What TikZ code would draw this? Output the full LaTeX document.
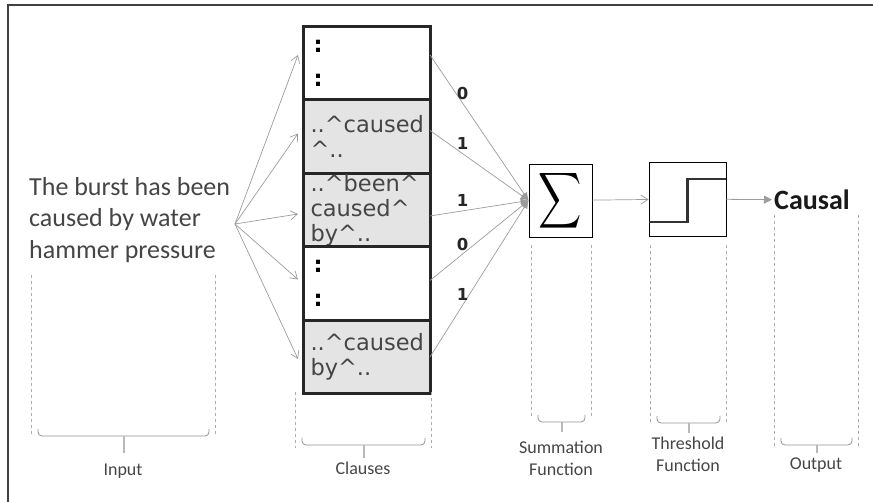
\documentclass[tikz,border=0pt]{standalone}
\usepackage{fontspec}
\setmainfont{Carlito}
\newfontfamily\clausefont{DejaVu Sans}
\usetikzlibrary{arrows.meta,positioning}
\definecolor{linegray}{HTML}{9C9C9C}
\definecolor{cellgray}{HTML}{E4E4E4}
\definecolor{inkgray}{HTML}{454545}
\tikzset{
  %clause cells of the stack
  cell/.style={
    rectangle,
    draw=black!85, line width=3pt,
    minimum width=127pt,
    minimum height=73.5pt,
    text width=112pt,
    inner sep=0pt, outer sep=0pt,
    align=left,
    font=\clausefont\fontsize{22.5}{25}\selectfont,
    text=inkgray},
  hit/.style={cell, fill=cellgray},
  %boxes for the two functions
  funcbox/.style={
    rectangle,
    draw=black, line width=0.8pt,
    inner sep=0pt},
  %grey connectors
  feed/.style={
    -{Straight Barb[length=7pt,width=9pt]},
    draw=linegray, line width=0.7pt},
  weighted/.style={
    -{Latex[length=8pt,width=7pt]},
    draw=linegray, line width=0.7pt},
  result/.style={
    -{Triangle[length=8pt,width=8pt]},
    draw=linegray, line width=0.8pt},
  weight/.style={
    font=\clausefont\bfseries\fontsize{16.5}{17}\selectfont,
    text=black!85, inner sep=1pt},
  %dashed guides and brackets under each stage
  guide/.style={draw=gray!65, line width=0.6pt, dash pattern=on 3pt off 3pt},
  bracket/.style={draw=gray!85, line width=0.8pt, rounded corners=4pt},
  stem/.style={draw=gray!55, line width=2pt},
  caption/.style={font=\fontsize{18}{22}\selectfont, text=inkgray, align=center, inner sep=0pt, anchor=north}
}
\begin{document}
\begin{tikzpicture}[x=1pt, y=-1pt, node distance=0pt]
\useasboundingbox (0,0) rectangle (873,502);
\draw[black!75, line width=1.5pt] (8,502) -- (8,5) -- (873,5);

%input sentence
\node[font=\fontsize{26}{31.5}\selectfont, text=inkgray, align=left, inner sep=0pt, anchor=north west]
  (sentence) at (29,177) {The burst has been\\caused by water\\hammer pressure};
\coordinate (fan) at (235,224);

%clause stack
\node[cell] (c1) at (366.5,63) {\hspace*{3pt}\textcolor{black}{\bfseries :}\\[9pt]\hspace*{3pt}\textcolor{black}{\bfseries :}};
\node[hit, below=of c1] (c2) {..\^{}caused\\\^{}..};
\node[hit, below=of c2] (c3) {..\^{}been\^{}\\caused\^{}\\by\^{}..};
\node[cell, below=of c3] (c4) {\hspace*{3pt}\textcolor{black}{\bfseries :}\\[9pt]\hspace*{3pt}\textcolor{black}{\bfseries :}};
\node[hit, below=of c4] (c5) {..\^{}caused\\by\^{}..};

%summation and threshold
\node[funcbox, minimum width=63pt, minimum height=73pt] (sum) at (560.5,200.5)
  {\scalebox{3.0}[3.9]{$\displaystyle\sum$}};
\node[funcbox, minimum width=77pt, minimum height=74pt] (thr) at (687.5,199) {};
\draw[black!80, line width=2.5pt] ([yshift=-23pt]thr.west) -| ([yshift=20pt]thr.center) -- ([yshift=20pt]thr.east);
\node[font=\bfseries\fontsize{28}{28}\selectfont, text=black!90, inner sep=2pt, anchor=west]
  (causal) at (772,200) {Causal};

%input to clauses
\draw[feed] (fan) -- ([xshift=-5pt,yshift=8pt]c1.west);
\draw[feed] (fan) -- ([xshift=-5pt,yshift=3pt]c2.west);
\draw[feed] (fan) -- ([xshift=-5pt,yshift=-4pt]c3.west);
\draw[feed] (fan) -- ([xshift=-5pt,yshift=4pt]c4.west);
\draw[feed] (fan) -- ([xshift=-5pt,yshift=-2pt]c5.west);

%clauses to summation
\draw[weighted] ([yshift=8pt]c1.east) -- (sum.west) node[weight, pos=0.33, above=2pt] (w1) {0};
\draw[weighted] ([yshift=6pt]c2.east) -- (sum.west) node[weight, pos=0.33, above=3pt] (w2) {1};
\draw[weighted] ([yshift=-6pt]c3.east) -- (sum.west) node[weight, pos=0.33, above=3pt] (w3) {1};
\draw[weighted] ([yshift=3pt]c4.east) -- (sum.west) node[weight, pos=0.33, above=2pt] (w4) {0};
\draw[weighted] (c5.east) -- (sum.west) node[weight, pos=0.33, above=4pt] (w5) {1};

\draw[feed] (sum) -- (thr);
\draw[result] (thr) -- (causal);

%stage guides, brackets and captions
\foreach \xa/\xb/\ytop/\ybot/\yb/\ys/\yc/\tag/\txt in {
    31/215/275/435/436/17/464/input/Input,
    295/431/392/448/445/13/462/clauses/Clauses,
    531/591/245/418/422/10/441/summation/{Summation\\Function},
    650/726/245/424/423/10/437/threshold/{Threshold\\Function},
    774/858/215/448/445/8/458/output/Output}{
  \draw[guide] (\xa,\ytop) -- (\xa,\ybot);
  \draw[guide] (\xb,\ytop) -- (\xb,\ybot);
  \draw[bracket] (\xa+7,\yb-7) |- (\xb-6,\yb) -- (\xb-6,\yb-7);
  \draw[stem] ({(\xa+\xb)/2+0.5},\yb) -- ++(0,\ys) coordinate (\tag tip);
  \node[caption] (\tag) at ({(\xa+\xb)/2},\yc) {\txt};
}
\end{tikzpicture}
\end{document}
